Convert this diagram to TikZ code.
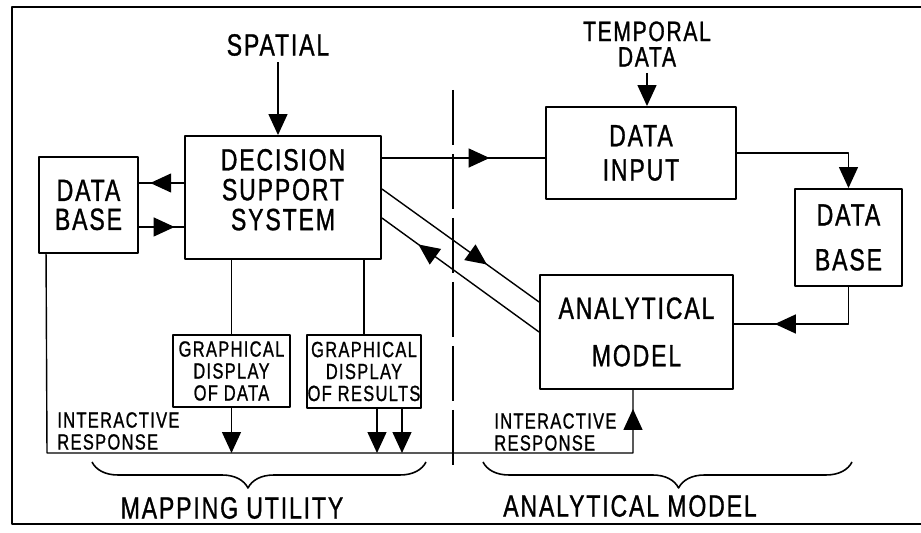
\documentclass[tikz,border=0pt]{standalone}
\usepackage{fontspec}
\setmainfont{Liberation Sans}[FakeStretch=0.75, LetterSpace=6, FakeBold=1]
\usetikzlibrary{arrows.meta,decorations.markings,decorations.pathreplacing}
\newcommand{\fsz}[2]{\fontsize{#1}{#2}\selectfont}
\tikzset{
  box/.style={draw, line width=1.1pt, align=center, inner sep=0pt},
  conn/.style={line width=0.8pt},
  midarrow/.style={postaction={decorate}, decoration={markings, mark=at position #1 with {\arrow{>}}}},
  grp/.style={line width=0.9pt, decorate, decoration={brace, mirror, amplitude=0.52cm, aspect=#1}},
}
\begin{document}
\begin{tikzpicture}[x=0.02cm, y=-0.02cm, line join=round, >={Triangle[length=0.42cm, width=0.38cm]}]
	\useasboundingbox (0,0) rectangle (921,533);
	\draw[line width=1.4pt] (921,7) -- (12,7) -- (12,524) -- (921,524);
	% boxes
	\node[box, minimum width=1.98cm, minimum height=1.92cm, font=\fsz{17.5}{16.5}] (dbL) at (88.5,205) {DATA\\BASE};
	\node[box, minimum width=3.92cm, minimum height=2.46cm, font=\fsz{17.5}{17}] (dss) at (283,197.5) {DECISION\\SUPPORT\\SYSTEM\\[-0.28cm]};
	\node[box, minimum width=3.8cm, minimum height=1.84cm, font=\fsz{17.5}{19.5}] (din) at (641,153) {DATA\\INPUT};
	\node[box, minimum width=2.14cm, minimum height=1.94cm, font=\fsz{17.5}{25.5}] (dbR) at (848.5,237.5) {DATA\\BASE};
	\node[box, minimum width=3.86cm, minimum height=2.28cm, font=\fsz{17.5}{27}] (am) at (636.5,332) {ANALYTICAL\\MODEL};
	\node[box, minimum width=2.34cm, minimum height=1.44cm, font=\fsz{12.5}{12.5}] (gdd) at (231.5,371) {GRAPHICAL\\DISPLAY\\OF DATA};
	\node[box, minimum width=2.28cm, minimum height=1.46cm, font=\fsz{12.5}{12.5}] (gdr) at (364,371.5) {GRAPHICAL\\DISPLAY\\OF RESULTS};
	% labels
	\node[font=\fsz{17.5}{17}] (spatial) at (278,45) {SPATIAL};
	\node[font=\fsz{16}{14.5}, align=center] (temporal) at (647,44) {TEMPORAL\\DATA};
	\node[font=\fsz{12.5}{12.5}, align=left, anchor=west, inner sep=0pt] (irL) at (57,431) {INTERACTIVE\\RESPONSE};
	\node[font=\fsz{12.5}{12.5}, align=left, anchor=west, inner sep=0pt] (irR) at (494,432) {INTERACTIVE\\RESPONSE};
	\node[font=\fsz{17.5}{17.5}] (mapping) at (232,508) {MAPPING UTILITY};
	\node[font=\fsz{17.5}{17.5}] (analytical) at (630,506) {ANALYTICAL MODEL};
	\coordinate (busL) at (47,453);
	\coordinate (busR) at (633,453);
	% connectors
	\draw[conn, ->] (spatial.south) -- (spatial.south |- dss.north);
	\draw[conn, ->] (temporal.south) -- (temporal.south |- din.north);
	\draw[conn, midarrow=0.75] ([yshift=0.29cm]dss.west) -- ([yshift=0.29cm]dss.west -| dbL.east);
	\draw[conn, midarrow=0.79] ([yshift=-0.59cm]dbL.east |- dss.west) -- ([yshift=-0.59cm]dss.west);
	\draw[conn, midarrow=0.66] ([yshift=0.79cm]dss.east) -- ([yshift=0.79cm]dss.east -| din.west);
	\draw[conn, ->] (din.east) -| (dbR.north);
	\draw[conn, midarrow=0.73] (dbR.south) |- ([yshift=0.16cm]am.east);
	\draw[conn, midarrow=0.67] ([yshift=0.17cm]dss.east) -- ([yshift=0.6cm]am.west);
	\draw[conn, midarrow=0.77] (am.west) -- ([yshift=-0.41cm]dss.east);
	\draw[conn] (gdd.north |- dss.south) -- (gdd.north);
	\draw[conn] (gdr.north |- dss.south) -- (gdr.north);
	\draw[conn, midarrow={-0.38cm}] ([xshift=0.16cm]dbL.south west) -- (busL) -- (busR) -- (busR |- am.south);
	\draw[conn, ->] (gdd.south) -- (gdd.south |- busL);
	\draw[conn, ->] ([xshift=0.26cm]gdr.south) -- ([xshift=0.26cm]gdr.south |- busL);
	\draw[conn, ->] ([xshift=0.76cm]gdr.south) -- ([xshift=0.76cm]gdr.south |- busL);
	% divider and groups
	\draw[line width=1.4pt, dash pattern=on 1.1cm off 0.18cm] (453,90) -- (453,472);
	\draw[grp=0.467] (92,462) -- (426,462);
	\draw[grp=0.53] (483,462) -- (852,462);
\end{tikzpicture}
\end{document}
